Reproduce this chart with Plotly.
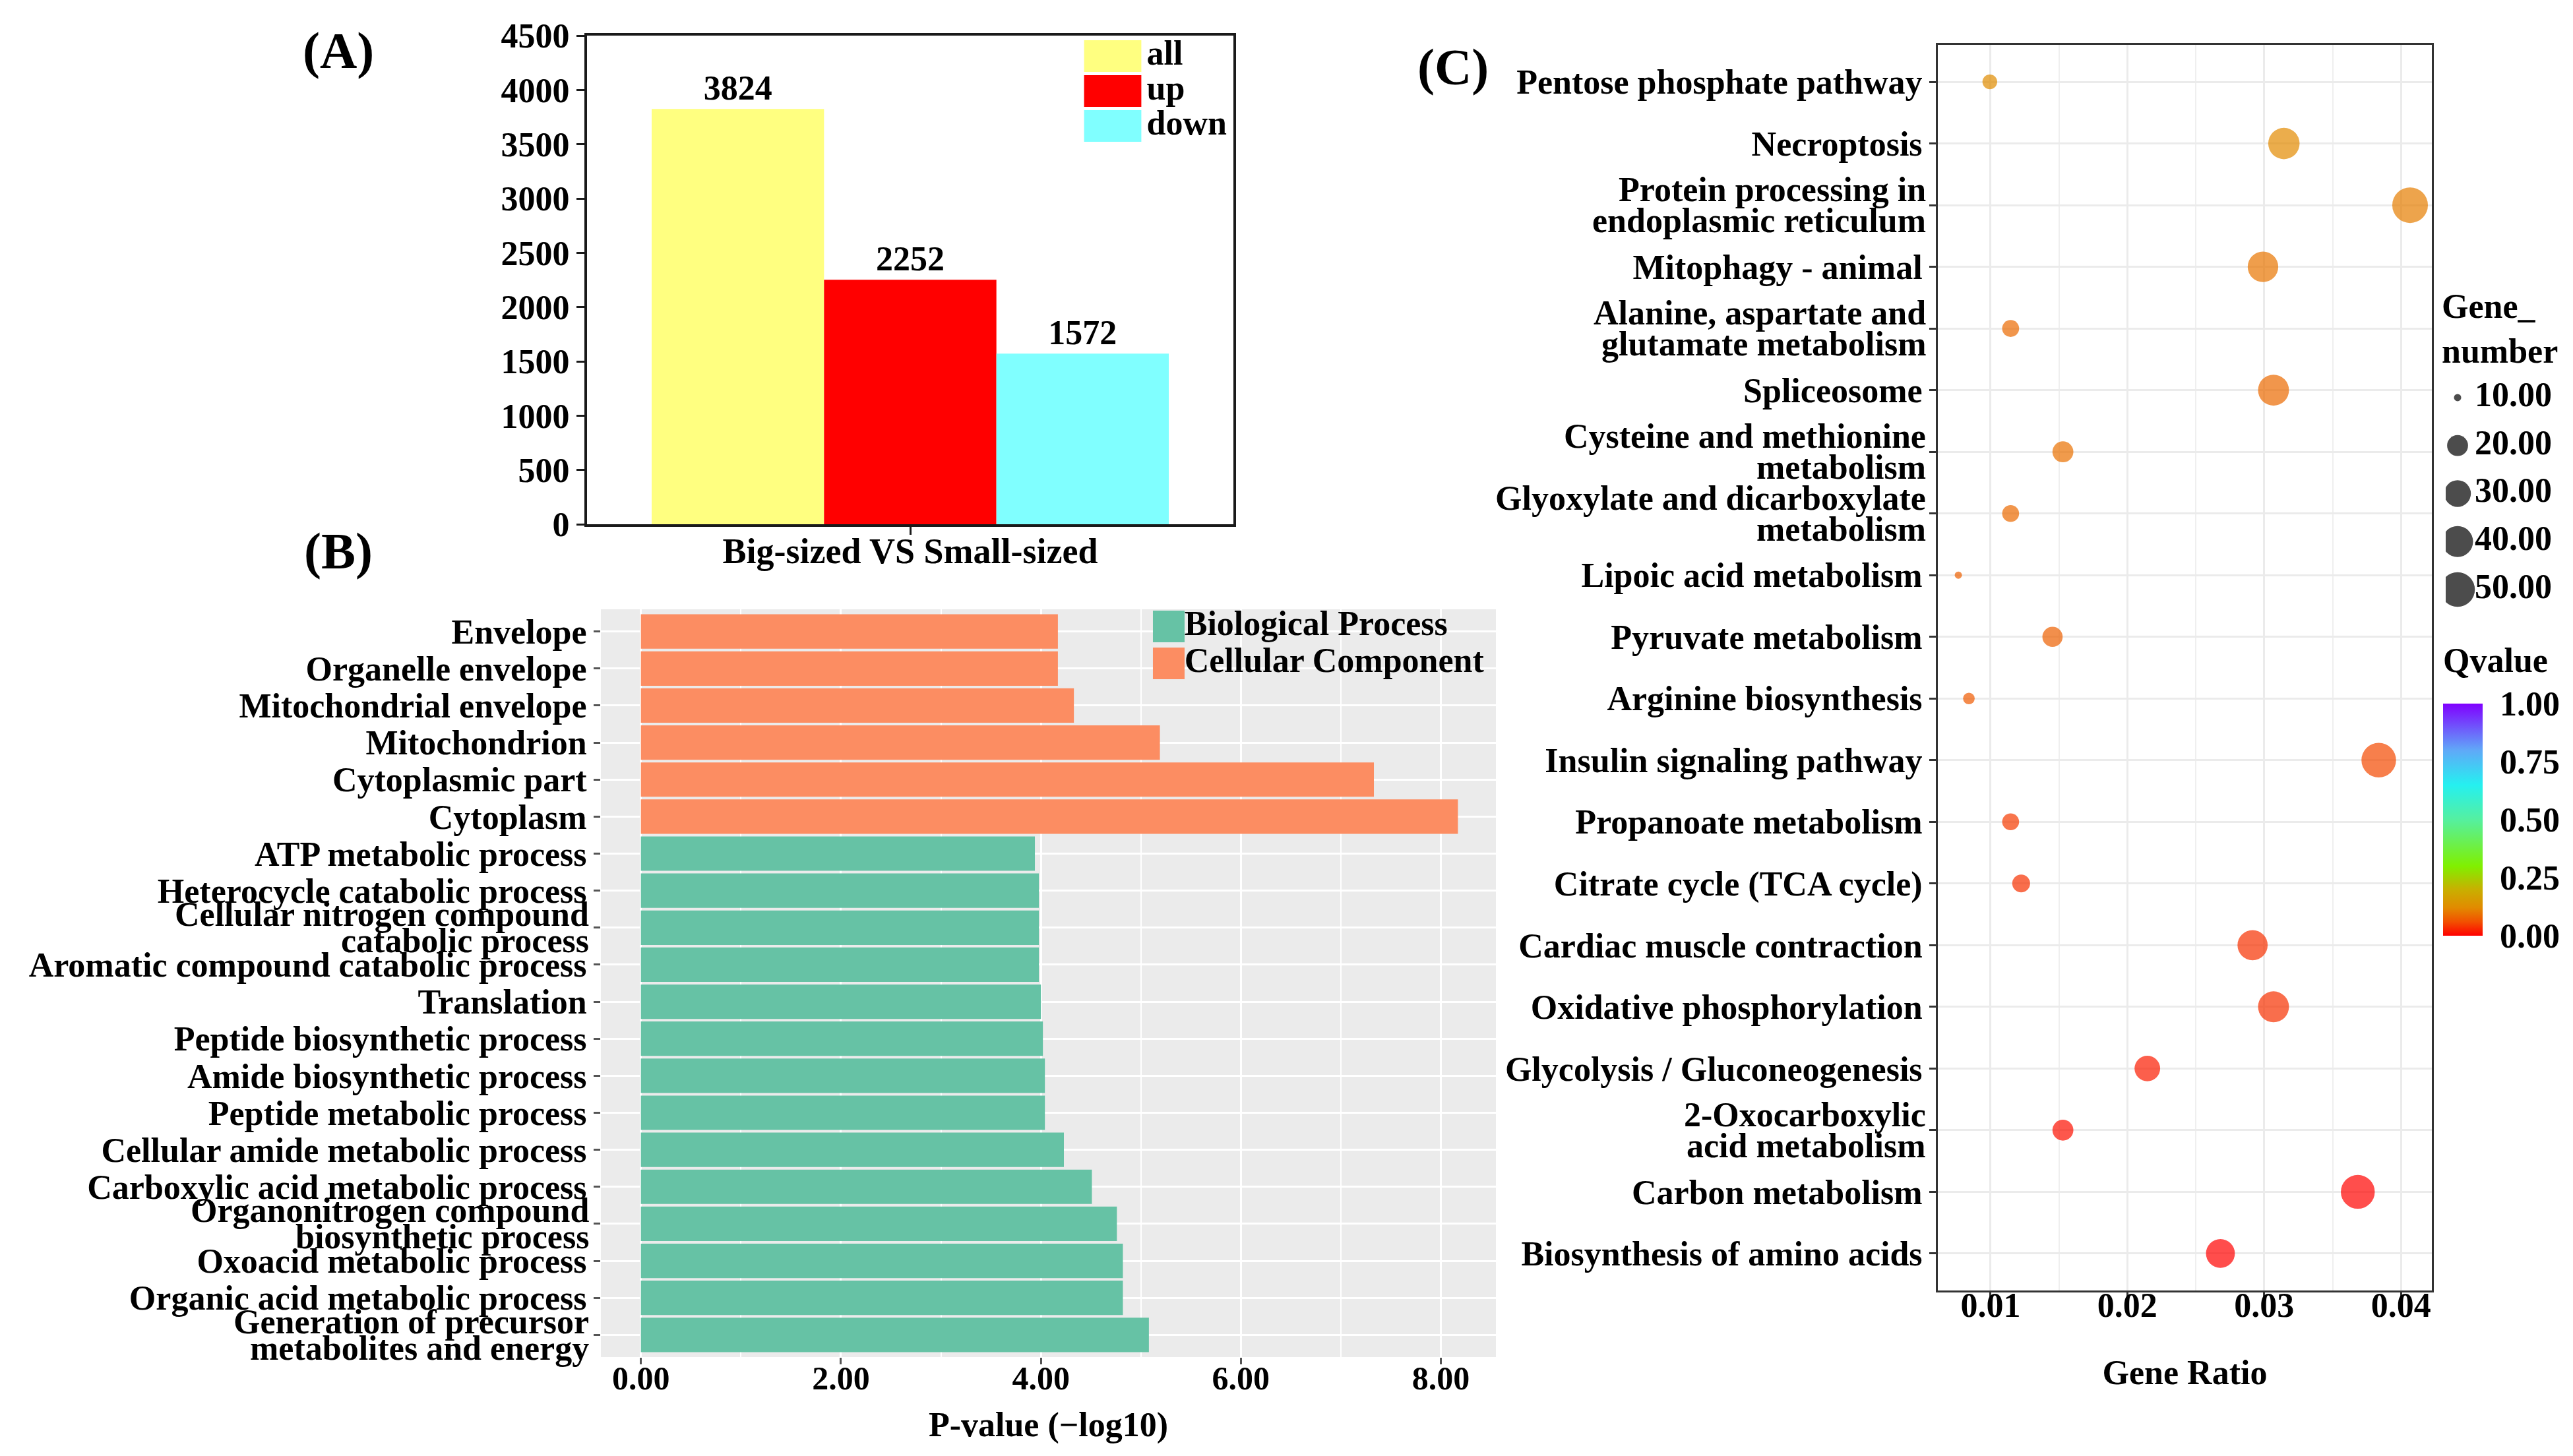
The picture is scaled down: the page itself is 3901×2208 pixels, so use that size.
import plotly.graph_objects as go

W, H = 3901, 2208
FONT = "Liberation Serif"
TXT = 52

# ---------------- Panel A data ----------------
deg_groups = ["all", "up", "down"]
deg_counts = [3824, 2252, 1572]
deg_colors = ["#FFFF80", "#FF0000", "#80FFFF"]
deg_category = "Big-sized VS Small-sized"
deg_yticks = [0, 500, 1000, 1500, 2000, 2500, 3000, 3500, 4000, 4500]

# ---------------- Panel B data (top -> bottom) ----------------
cc_terms = ["Envelope", "Organelle envelope", "Mitochondrial envelope",
            "Mitochondrion", "Cytoplasmic part", "Cytoplasm"]
cc_values = [4.17, 4.17, 4.33, 5.19, 7.33, 8.17]
bp_terms = ["ATP metabolic process", "Heterocycle catabolic process",
            "Cellular nitrogen compound<br>catabolic process",
            "Aromatic compound catabolic process", "Translation",
            "Peptide biosynthetic process", "Amide biosynthetic process",
            "Peptide metabolic process", "Cellular amide metabolic process",
            "Carboxylic acid metabolic process",
            "Organonitrogen compound<br>biosynthetic process",
            "Oxoacid metabolic process", "Organic acid metabolic process",
            "Generation of precursor<br>metabolites and energy"]
bp_values = [3.94, 3.98, 3.98, 3.98, 4.00, 4.02, 4.04, 4.04, 4.23, 4.51,
             4.76, 4.82, 4.82, 5.08]
go_classes = ["Biological Process", "Cellular Component"]
go_colors = ["#66C2A5", "#FC8D62"]
pval_ticks = [0, 2, 4, 6, 8]
pval_minor = [1, 3, 5, 7]

# ---------------- Panel C data (top -> bottom) ----------------
kegg_terms = ["Pentose phosphate pathway", "Necroptosis",
              "Protein processing in<br>endoplasmic reticulum",
              "Mitophagy - animal",
              "Alanine, aspartate and<br>glutamate metabolism",
              "Spliceosome",
              "Cysteine and methionine<br>metabolism",
              "Glyoxylate and dicarboxylate<br>metabolism",
              "Lipoic acid metabolism", "Pyruvate metabolism",
              "Arginine biosynthesis", "Insulin signaling pathway",
              "Propanoate metabolism", "Citrate cycle (TCA cycle)",
              "Cardiac muscle contraction", "Oxidative phosphorylation",
              "Glycolysis / Gluconeogenesis",
              "2-Oxocarboxylic<br>acid metabolism",
              "Carbon metabolism", "Biosynthesis of amino acids"]
gene_ratio = [0.00995, 0.03144, 0.04066, 0.02991, 0.01147, 0.03068,
              0.01529, 0.01147, 0.00765, 0.01453, 0.00842, 0.03837,
              0.01147, 0.01224, 0.02915, 0.03068, 0.02146, 0.01529,
              0.03684, 0.02680]
gene_number = [13, 41, 53, 39, 15, 40, 20, 15, 10, 19, 11, 50,
               15, 16, 38, 40, 28, 20, 48, 35]
qvalue = [0.125, 0.12, 0.107, 0.098, 0.087, 0.087, 0.093, 0.087, 0.077,
          0.077, 0.07, 0.055, 0.044, 0.036, 0.036, 0.036, 0.02, 0.012,
          0.002, 0.001]
ratio_ticks = [0.01, 0.02, 0.03, 0.04]
ratio_minor = [0.015, 0.025, 0.035]
size_legend_values = [10, 20, 30, 40, 50]
q_ticks = [0, 0.25, 0.5, 0.75, 1.0]
q_colorscale = [[0.0, "#FF0000"], [0.06, "#F25000"], [0.12, "#E28A00"],
                [0.2, "#C8B000"], [0.3, "#80F000"], [0.5, "#55F0A0"],
                [0.65, "#25F0F0"], [0.8, "#60A8F8"], [1.0, "#8000FF"]]


def dot_diameter(n, lo=10, hi=53, dmin=11, dspan=43):
    return dmin + dspan * (max(n - lo, 0) / (hi - lo)) ** 0.5


def f(size=TXT):
    return dict(family=FONT, size=size, color="black", weight="bold")


def px_y(p):
    return 1 - p / H


def tick_text(cats):
    return ["" if "<br>" in c else c for c in cats]


def multiline_labels(cats, xref, yref, spacing, xshift):
    anns = []
    for c in cats:
        if "<br>" not in c:
            continue
        lines = c.split("<br>")
        n = len(lines)
        for i, line in enumerate(lines):
            anns.append(dict(text=line, x=0, xref=xref, y=c, yref=yref,
                             xanchor="right", yanchor="middle", xshift=xshift,
                             yshift=((n - 1) / 2 - i) * spacing,
                             showarrow=False, font=f(TXT)))
    return anns


fig = go.Figure()

# ---------- Panel A ----------
for g, v, c in zip(deg_groups, deg_counts, deg_colors):
    fig.add_trace(go.Bar(x=[deg_category], y=[v], name=g,
                         marker=dict(color=c, line=dict(width=0)),
                         text=[str(v)], textposition="outside", textfont=f(TXT),
                         cliponaxis=False, xaxis="x", yaxis="y", showlegend=False))

# legend A (swatches + labels)
fig.add_trace(go.Scatter(x=[0] * 3, y=deg_groups, mode="markers",
                         marker=dict(symbol="line-ew", size=62, color=deg_colors,
                                     line=dict(width=48, color=deg_colors)),
                         xaxis="x5", yaxis="y5", showlegend=False, hoverinfo="skip"))
fig.add_trace(go.Scatter(x=[0.215] * 3, y=deg_groups, mode="text", text=deg_groups,
                         textposition="middle right", textfont=f(TXT),
                         xaxis="x5", yaxis="y5", showlegend=False, hoverinfo="skip"))

# ---------- Panel B ----------
fig.add_trace(go.Bar(y=bp_terms, x=bp_values, orientation="h", name=go_classes[0],
                     marker=dict(color=go_colors[0], line=dict(width=0)), width=0.93,
                     offsetgroup="b", xaxis="x2", yaxis="y2", showlegend=False))
fig.add_trace(go.Bar(y=cc_terms, x=cc_values, orientation="h", name=go_classes[1],
                     marker=dict(color=go_colors[1], line=dict(width=0)), width=0.93,
                     offsetgroup="b", xaxis="x2", yaxis="y2", showlegend=False))

# legend B
fig.add_trace(go.Scatter(x=[0] * 2, y=go_classes, mode="markers",
                         marker=dict(symbol="square", size=48, color=go_colors,
                                     line=dict(width=0)),
                         xaxis="x7", yaxis="y7", showlegend=False, hoverinfo="skip"))
fig.add_trace(go.Scatter(x=[0.045] * 2, y=go_classes, mode="text", text=go_classes,
                         textposition="middle right", textfont=f(TXT),
                         xaxis="x7", yaxis="y7", showlegend=False, hoverinfo="skip"))

# ---------- Panel C ----------
fig.add_trace(go.Scatter(
    x=gene_ratio, y=kegg_terms, mode="markers",
    marker=dict(size=[dot_diameter(n) for n in gene_number], sizemode="diameter",
                color=qvalue, colorscale=q_colorscale, cmin=0, cmax=1,
                line=dict(width=0), showscale=True,
                colorbar=dict(x=3696 / W, xanchor="left", y=1 - 1234.5 / H,
                              yanchor="middle", len=352 / H, lenmode="fraction",
                              thickness=60, thicknessmode="pixels", outlinewidth=0,
                              xpad=0, ypad=0, tickvals=q_ticks, tickformat=".2f",
                              ticks="outside", ticklen=16, tickcolor="rgba(0,0,0,0)",
                              tickfont=f(TXT))),
    xaxis="x3", yaxis="y3", showlegend=False))

# size legend
fig.add_trace(go.Scatter(x=[0] * 5, y=size_legend_values, mode="markers",
                         marker=dict(size=[dot_diameter(v) for v in size_legend_values],
                                     sizemode="diameter", color="black", line=dict(width=0)),
                         xaxis="x4", yaxis="y4", showlegend=False, hoverinfo="skip"))
fig.add_trace(go.Scatter(x=[0.13] * 5, y=size_legend_values, mode="text",
                         text=[f"{v:.2f}" for v in size_legend_values],
                         textposition="middle right", textfont=f(TXT),
                         xaxis="x4", yaxis="y4", showlegend=False, hoverinfo="skip"))

B_order = (cc_terms + bp_terms)[::-1]
C_order = kegg_terms[::-1]

hidden = dict(visible=False, fixedrange=True)

fig.update_layout(
    width=W, height=H,
    margin=dict(l=0, r=0, t=0, b=0),
    paper_bgcolor="white", plot_bgcolor="rgba(0,0,0,0)",
    font=f(TXT), showlegend=False,
    barmode="group", bargap=0.04, bargroupgap=0,
    # Panel A
    xaxis=dict(domain=[882 / W, 1862 / W], anchor="y", type="category",
               range=[-0.6, 0.6], showline=True, mirror=True, linecolor="#1a1a1a",
               linewidth=4, ticks="outside", ticklen=12, tickwidth=3, tickcolor="#1a1a1a",
               showgrid=False, zeroline=False, tickfont=f(54), ticklabelstandoff=-22,
               automargin=False),
    yaxis=dict(domain=[px_y(787), px_y(46)], anchor="x", range=[0, 4500],
               tickvals=deg_yticks, tickformat="d", showline=True, mirror=True,
               linecolor="#1a1a1a", linewidth=4, ticks="outside", ticklen=12, tickwidth=3,
               tickcolor="#1a1a1a", showgrid=False, zeroline=False, tickfont=f(TXT),
               automargin=False),
    # Panel B
    xaxis2=dict(domain=[903 / W, 2260 / W], anchor="y2", range=[-0.40, 8.55],
                tickvals=pval_ticks, tickformat=".2f", showgrid=True, gridcolor="white",
                gridwidth=3, minor=dict(tickvals=pval_minor, showgrid=True,
                                        gridcolor="white", gridwidth=1.5),
                ticks="outside", ticklen=10, tickwidth=3, tickcolor="#555555",
                zeroline=False, showline=False, tickfont=f(50), ticklabelstandoff=-22,
                title=dict(text="P-value (\u2212log10)", font=f(TXT), standoff=24),
                automargin=False),
    yaxis2=dict(domain=[px_y(2050), px_y(916)], anchor="x2", type="category",
                categoryorder="array", categoryarray=B_order, range=[-0.6, 19.6],
                tickmode="array", tickvals=B_order, ticktext=tick_text(B_order),
                showgrid=True, gridcolor="white", gridwidth=3, ticks="outside",
                ticklen=10, tickwidth=3, tickcolor="#555555", zeroline=False,
                showline=False, tickfont=f(TXT), automargin=False),
    # Panel C
    xaxis3=dict(domain=[2930 / W, 3679 / W], anchor="y3", range=[0.00615, 0.04225],
                tickvals=ratio_ticks, tickformat=".2f", showgrid=True, gridcolor="#EBEBEB",
                gridwidth=3, minor=dict(tickvals=ratio_minor, showgrid=True,
                                        gridcolor="#EFEFEF", gridwidth=2),
                showline=True, mirror=True, linecolor="#333333", linewidth=3,
                ticks="outside", ticklen=11, tickwidth=3, tickcolor="#333333",
                zeroline=False, tickfont=f(52), ticklabelstandoff=-36,
                title=dict(text="Gene Ratio", font=f(TXT), standoff=56),
                automargin=False),
    yaxis3=dict(domain=[px_y(1949), px_y(60)], anchor="x3", type="category",
                categoryorder="array", categoryarray=C_order, range=[-0.6, 19.6],
                tickmode="array", tickvals=C_order, ticktext=tick_text(C_order),
                showgrid=True, gridcolor="#EBEBEB", gridwidth=3, showline=True,
                mirror=True, linecolor="#333333", linewidth=3, ticks="outside",
                ticklen=10, tickwidth=3, tickcolor="#333333", zeroline=False,
                tickfont=f(TXT), automargin=False),
    # size legend
    xaxis4=dict(domain=[3700 / W, 3900 / W], anchor="y4", range=[-0.09, 0.91], **hidden),
    yaxis4=dict(domain=[px_y(922.4), px_y(558.6)], anchor="x4", range=[55, 5], **hidden),
    # legend A
    xaxis5=dict(domain=[1625 / W, 1865 / W], anchor="y5", range=[-0.225, 0.775], **hidden),
    yaxis5=dict(domain=[px_y(209.5), px_y(50.5)], anchor="x5", type="category",
                categoryorder="array", categoryarray=deg_groups[::-1],
                range=[-0.5, 2.5], **hidden),
    # legend B
    xaxis7=dict(domain=[1722 / W, 2250 / W], anchor="y7", range=[-0.0795, 0.9205], **hidden),
    yaxis7=dict(domain=[px_y(1026), px_y(914)], anchor="x7", type="category",
                categoryorder="array", categoryarray=go_classes[::-1],
                range=[-0.5, 1.5], **hidden),
)

fig.update_layout(shapes=[
    dict(type="rect", xref="x2 domain", yref="y2 domain", x0=0, x1=1, y0=0, y1=1,
         fillcolor="#EBEBEB", line=dict(width=0), layer="below"),
])

annotations = [
    dict(text="(A)", x=505 / W, y=px_y(68), xref="paper", yref="paper",
         xanchor="center", yanchor="middle", showarrow=False, font=f(78)),
    dict(text="(B)", x=505 / W, y=px_y(827), xref="paper", yref="paper",
         xanchor="center", yanchor="middle", showarrow=False, font=f(78)),
    dict(text="(C)", x=2195 / W, y=px_y(93), xref="paper", yref="paper",
         xanchor="center", yanchor="middle", showarrow=False, font=f(78)),
    dict(text="Gene_<br>number", x=3692 / W, y=px_y(490), xref="paper", yref="paper",
         xanchor="left", yanchor="middle", align="left", showarrow=False, font=f(TXT)),
    dict(text="Qvalue", x=3694 / W, y=px_y(994), xref="paper", yref="paper",
         xanchor="left", yanchor="middle", showarrow=False, font=f(TXT)),
]
annotations += multiline_labels(B_order, "x2 domain", "y2", 40, -16)
annotations += multiline_labels(C_order, "x3 domain", "y3", 47, -16)
fig.update_layout(annotations=annotations)

fig.write_html("out.html")
